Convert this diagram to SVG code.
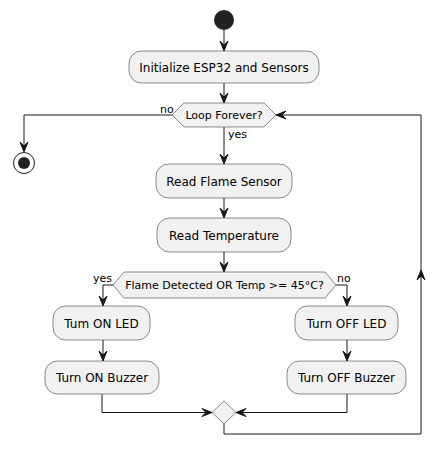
<svg xmlns="http://www.w3.org/2000/svg" width="445" height="457" viewBox="0 0 445 457">
<defs>
<style>
.box{fill:#F1F1F1;stroke:#181818;stroke-width:0.5}
.t{font-family:"DejaVu Sans",sans-serif;font-size:12px;fill:#000;text-anchor:middle}
.s{font-family:"DejaVu Sans",sans-serif;font-size:11px;fill:#000}
.e{fill:none;stroke:#181818;stroke-width:1}
.ah{fill:#181818;stroke:#181818;stroke-width:1}
</style>
<polygon id="ad" points="0,0 -4,-10 0,-6 4,-10"/>
</defs>
<rect width="445" height="457" fill="#FFFFFF"/>
<g id="start"><circle cx="224" cy="20" r="10" fill="#222222"/></g>
<g id="init"><rect class="box" x="129" y="51" width="190" height="32" rx="12.5"/><text class="t" x="224" y="72">Initialize ESP32 and Sensors</text></g>
<g id="loop"><polygon class="box" points="172,115 184,103 264,103 276,115 264,127 184,127"/><text class="s" x="224" y="119" text-anchor="middle">Loop Forever?</text></g>
<g id="stop"><circle cx="24" cy="163" r="10.5" fill="none" stroke="#222222" stroke-width="1"/><circle cx="24" cy="163" r="6" fill="#222222"/></g>
<g id="flame"><rect class="box" x="156" y="164" width="136" height="34" rx="12.5"/><text class="t" x="224" y="186">Read Flame Sensor</text></g>
<g id="temp"><rect class="box" x="157" y="218" width="134" height="34" rx="12.5"/><text class="t" x="224" y="240">Read Temperature</text></g>
<g id="cond"><polygon class="box" points="113,285 124,272 325,272 336,285 325,298 124,298"/><text class="s" x="224.5" y="289" text-anchor="middle">Flame Detected OR Temp &gt;= 45°C?</text></g>
<g id="onled"><rect class="box" x="53" y="306" width="97" height="34" rx="12.5"/><text class="t" x="101.5" y="328">Tum ON LED</text></g>
<g id="onbuz"><rect class="box" x="45" y="361" width="114" height="33" rx="12.5"/><text class="t" x="102" y="382">Turn ON Buzzer</text></g>
<g id="offled"><rect class="box" x="295" y="306" width="103" height="34" rx="12.5"/><text class="t" x="346.5" y="328">Turn OFF LED</text></g>
<g id="offbuz"><rect class="box" x="287" y="361" width="119" height="33" rx="12.5"/><text class="t" x="346.5" y="382">Turn OFF Buzzer</text></g>
<g id="merge"><polygon class="box" points="224,401 236,412.5 224,424 212,412.5"/></g>
<g id="connectors">
<path class="e" d="M224,30 V50"/><use href="#ad" class="ah" transform="translate(224,51)"/>
<path class="e" d="M224,83 V102"/><use href="#ad" class="ah" transform="translate(224,103)"/>
<path class="e" d="M172,115 H24 V151"/><use href="#ad" class="ah" transform="translate(24,152)"/>
<text class="s" x="160" y="113">no</text>
<path class="e" d="M224,127 V163"/><use href="#ad" class="ah" transform="translate(224,164)"/>
<text class="s" x="228" y="138">yes</text>
<path class="e" d="M224,198 V217"/><use href="#ad" class="ah" transform="translate(224,218)"/>
<path class="e" d="M224,252 V271"/><use href="#ad" class="ah" transform="translate(224,272)"/>
<path class="e" d="M113,285 H103 V305"/><use href="#ad" class="ah" transform="translate(103,306)"/>
<text class="s" x="93" y="282">yes</text>
<path class="e" d="M336,285 H347 V305"/><use href="#ad" class="ah" transform="translate(347,306)"/>
<text class="s" x="337" y="282">no</text>
<path class="e" d="M103,340 V360"/><use href="#ad" class="ah" transform="translate(103,361)"/>
<path class="e" d="M347,340 V360"/><use href="#ad" class="ah" transform="translate(347,361)"/>
<path class="e" d="M102,394 V412.5 H211"/><use href="#ad" class="ah" transform="translate(212,412.5) rotate(-90)"/>
<path class="e" d="M347,394 V412.5 H237"/><use href="#ad" class="ah" transform="translate(236,412.5) rotate(90)"/>
<path class="e" d="M224,424 V434 H421 V115 H277"/>
<use href="#ad" class="ah" transform="translate(421,270) rotate(180)"/>
<use href="#ad" class="ah" transform="translate(276,115) rotate(90)"/>
</g>
</svg>
